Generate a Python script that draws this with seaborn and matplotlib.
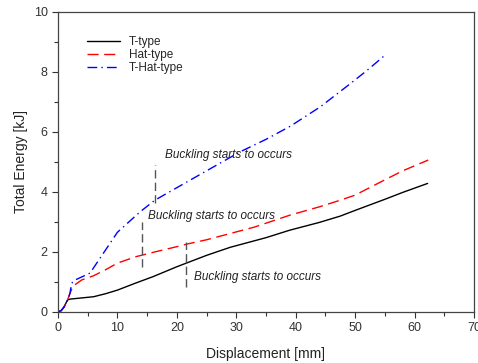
import pandas as pd
import seaborn as sns
import matplotlib
matplotlib.use('Agg')
import matplotlib.pyplot as plt
from matplotlib.ticker import MultipleLocator

# T-type
disp_t = [0, 0.5, 1, 1.6, 2, 4, 6, 8, 10, 13, 16, 20, 25, 29, 35, 39, 44, 47.5, 50, 55, 58, 62.2]
energy_t = [0, 0.03, 0.15, 0.39, 0.42, 0.46, 0.5, 0.6, 0.72, 0.95, 1.17, 1.5, 1.88, 2.15, 2.47,
            2.72, 2.98, 3.19, 3.38, 3.75, 3.98, 4.28]
# Hat-type
disp_h = [0, 0.5, 1, 1.6, 2, 2.5, 3, 4, 6, 8, 10, 13, 16, 20, 22, 25, 29, 33, 39, 44, 47.5,
          50, 55, 58, 62.3]
energy_h = [0, 0.03, 0.15, 0.39, 0.6, 0.85, 0.92, 1.06, 1.2, 1.4, 1.62, 1.83, 1.98, 2.17, 2.27,
            2.4, 2.61, 2.82, 3.22, 3.5, 3.72, 3.89, 4.4, 4.7, 5.06]
# T-Hat-type
disp_th = [0, 0.5, 1, 1.6, 2, 2.3, 2.9, 4, 5.4, 7.6, 10, 13.8, 16.3, 21.7, 25, 30.6, 35, 39.1,
           44.1, 49.2, 52, 54.8]
energy_th = [0, 0.03, 0.15, 0.39, 0.6, 0.95, 1.06, 1.16, 1.29, 1.94, 2.65, 3.33, 3.72, 4.33,
             4.7, 5.33, 5.75, 6.19, 6.83, 7.61, 8.05, 8.52]

# buckling markers: x, y bottom, y top, and label anchor
buck_x = [16.3, 14.1, 21.6]
buck_y0 = [3.63, 1.48, 0.81]
buck_y1 = [4.89, 3.0, 2.33]
buck_tx = [18.0, 15.1, 22.95]
buck_ty = [5.22, 3.19, 1.15]
buck_text = 'Buckling starts to occurs'

sns.set_style('ticks')
plt.rcParams['font.family'] = ['Liberation Sans', 'DejaVu Sans']

df = pd.concat([
    pd.DataFrame({'disp': disp_t, 'energy': energy_t, 'type': 'T-type'}),
    pd.DataFrame({'disp': disp_h, 'energy': energy_h, 'type': 'Hat-type'}),
    pd.DataFrame({'disp': disp_th, 'energy': energy_th, 'type': 'T-Hat-type'}),
])

fig = plt.figure(figsize=(4.78, 3.63), dpi=100)
ax = fig.add_axes([0.1213, 0.1413, 0.8703, 0.8257])

styles = {'T-type': ('black', '-'), 'Hat-type': ('red', (0, (8, 4))),
          'T-Hat-type': ('blue', (0, (7, 3, 1, 3)))}
for name, (c, ls) in styles.items():
    sub = df[df['type'] == name]
    sns.lineplot(data=sub, x='disp', y='energy', color=c, linestyle=ls, lw=1,
                 label=name, ax=ax, sort=False)

for x, y0, y1, tx, ty in zip(buck_x, buck_y0, buck_y1, buck_tx, buck_ty):
    ax.plot([x, x], [y0, y1], color='#555555', lw=1, linestyle=(0, (6, 3)))
    ax.text(tx, ty, buck_text, fontsize=8.5, style='italic', color='#222222',
            ha='left', va='center')

ax.set_xlim(0, 70)
ax.set_ylim(0, 10)
ax.xaxis.set_major_locator(MultipleLocator(10))
ax.xaxis.set_minor_locator(MultipleLocator(5))
ax.yaxis.set_major_locator(MultipleLocator(2))
ax.yaxis.set_minor_locator(MultipleLocator(1))
ax.tick_params(which='both', direction='out', labelsize=9, colors='#333333', width=0.8)
ax.tick_params(which='major', length=4)
ax.tick_params(which='minor', length=3)
for s in ax.spines.values():
    s.set_color('#444444')
    s.set_linewidth(0.9)
ax.set_xlabel('Displacement [mm]', fontsize=10, color='#222222', labelpad=9)
ax.set_ylabel('Total Energy [kJ]', fontsize=10, color='#222222', labelpad=4)

leg = ax.legend(loc='upper left', bbox_to_anchor=(0.045, 0.955), frameon=False,
                fontsize=8.5, handlelength=2.8, labelspacing=0.1, handletextpad=0.75)

fig.savefig('out.png', dpi=100)
